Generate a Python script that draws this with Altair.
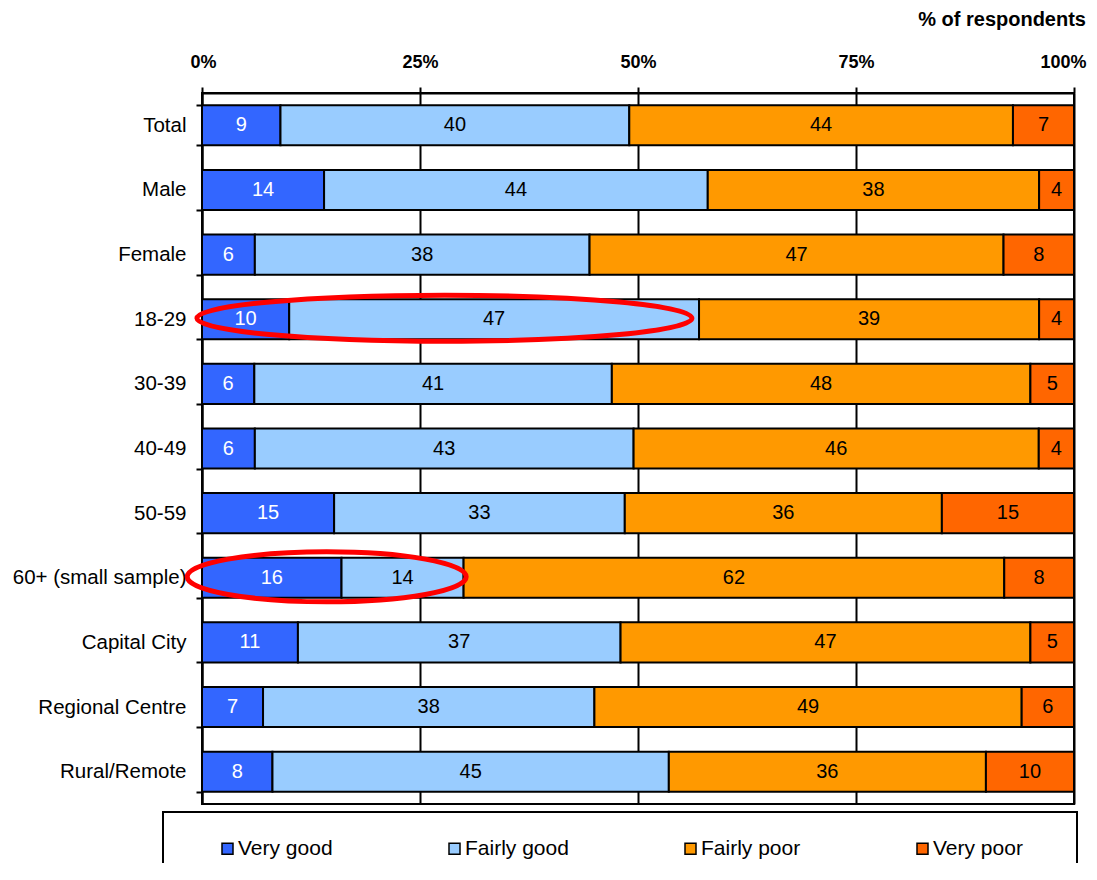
import altair as alt
import pandas as pd

# ---- data ----
categories = ["Total", "Male", "Female", "18-29", "30-39", "40-49", "50-59",
              "60+ (small sample)", "Capital City", "Regional Centre", "Rural/Remote"]
ratings = ["Very good", "Fairly good", "Fairly poor", "Very poor"]
very_good = [9, 14, 6, 10, 6, 6, 15, 16, 11, 7, 8]
fairly_good = [40, 44, 38, 47, 41, 43, 33, 14, 37, 38, 45]
fairly_poor = [44, 38, 47, 39, 48, 46, 36, 62, 47, 49, 36]
very_poor = [7, 4, 8, 4, 5, 4, 15, 8, 5, 6, 10]
tick_values = [0, 0.25, 0.5, 0.75, 1]

# highlighted rows (red ellipses), centre given as share of respondents
highlight_cats = ["18-29", "60+ (small sample)"]
highlight_centre = [0.278, 0.143]

# ---- styling ----
colors = ["#3366FF", "#99CCFF", "#FF9900", "#FF6600"]
FONT = "Liberation Sans"
ELLIPSE_PATHS = ["M-1,0 A1,0.093 0 1,0 1,0 A1,0.093 0 1,0 -1,0 Z",
                 "M-1,0 A1,0.179 0 1,0 1,0 A1,0.179 0 1,0 -1,0 Z"]
ELLIPSE_SIZES = [495 ** 2, 279 ** 2]

series = [very_good, fairly_good, fairly_poor, very_poor]
rows = []
for i, c in enumerate(categories):
    for j, r in enumerate(ratings):
        rows.append({"cat": c, "rating": r, "value": series[j][i], "order": j})
df = pd.DataFrame(rows)

ann = pd.DataFrame({"cat": highlight_cats, "x": highlight_centre,
                    "shape": ELLIPSE_PATHS, "size": ELLIPSE_SIZES})
one = pd.DataFrame({"k": [0]})

y_scale = alt.Scale(domain=categories, paddingInner=0.38, paddingOuter=0.19)
y_axis = alt.Axis(title=None, tickBand="extent", labelFontSize=20.5, labelFont=FONT,
                  labelColor="black", labelPadding=10, tickSize=6, tickWidth=2,
                  tickColor="black", domainColor="black", domainWidth=2, grid=False)
x_scale = alt.Scale(domain=[0, 1], nice=False)
x_axis = alt.Axis(title=None, orient="top", values=tick_values, format=".0%",
                  labelFontSize=18, labelFontWeight="bold", labelFont=FONT,
                  labelColor="black", labelFlush=True, labelFlushOffset=12,
                  labelOverlap=False,
                  labelPadding=16, tickSize=6, tickWidth=2, tickColor="black",
                  domainColor="black", domainWidth=2, grid=True, gridColor="black",
                  gridWidth=2, gridOpacity=1)

base = alt.Chart(df).transform_stack(
    stack="value", groupby=["cat"], as_=["v0", "v1"], offset="normalize",
    sort=[alt.SortField("order", "ascending")]
).transform_calculate(mid="(datum.v0 + datum.v1) / 2")

bars = base.mark_bar(stroke="black", strokeWidth=2, opacity=1).encode(
    x=alt.X("v0:Q", scale=x_scale, axis=x_axis),
    x2="v1:Q",
    y=alt.Y("cat:N", scale=y_scale, axis=y_axis),
    color=alt.Color("rating:N", scale=alt.Scale(domain=ratings, range=colors),
                    legend=alt.Legend(title=None, orient="none", legendX=15, legendY=745,
                                      direction="horizontal", columns=4, columnPadding=111,
                                      symbolType="square", symbolSize=121,
                                      symbolStrokeColor="black", symbolStrokeWidth=1.5,
                                      symbolOpacity=1, labelFontSize=21, labelFont=FONT,
                                      labelColor="black", labelOffset=0, padding=0)),
    order=alt.Order("order:Q"),
)

labels = base.mark_text(fontSize=20, font=FONT).encode(
    x=alt.X("mid:Q", scale=x_scale),
    y=alt.Y("cat:N", scale=y_scale),
    text="value:Q",
    color=alt.condition(alt.datum.rating == "Very good", alt.value("white"), alt.value("black")),
)

ellipses = alt.Chart(ann).mark_point(filled=False, stroke="#FF0000", strokeWidth=5,
                                     opacity=1, yOffset=-1).encode(
    x=alt.X("x:Q", scale=x_scale),
    y=alt.Y("cat:N", scale=y_scale),
    shape=alt.Shape("shape:N", scale=None),
    size=alt.Size("size:Q", scale=None),
)

box = alt.Chart(one).mark_rect(stroke="black", strokeWidth=2, fillOpacity=0).encode(
    x=alt.value(-39), x2=alt.value(875), y=alt.value(719), y2=alt.value(800)
)

title = alt.Chart(one).mark_text(text="% of respondents", fontSize=20, fontWeight="bold",
                                 font=FONT, align="right", baseline="alphabetic",
                                 color="black").encode(x=alt.value(884), y=alt.value(-67))

chart = alt.layer(bars, labels, ellipses, box, title).properties(
    width=872, height=711,
    padding={"left": 194, "top": 85, "right": 15, "bottom": 59},
    autosize=alt.AutoSizeParams(type="none"),
).configure_view(stroke="black", strokeWidth=2)

chart.save("out.html", embed_options={"renderer": "svg", "actions": False})
